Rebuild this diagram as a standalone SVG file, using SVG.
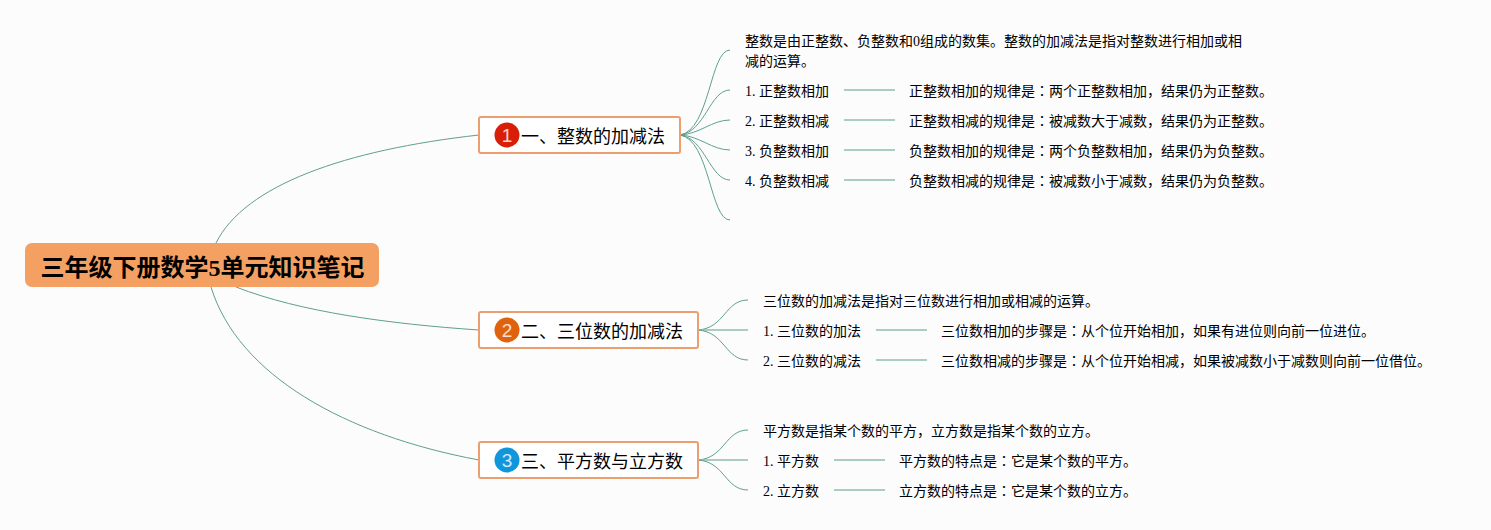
<svg xmlns="http://www.w3.org/2000/svg" width="1491" height="530" viewBox="0 0 1491 530">
<style>
text{font-family:"Liberation Serif","Noto Sans CJK SC",serif;fill:#000}
.t{font-size:14px}
.b{font-size:18px}
.r{font-size:24px;font-weight:700}
.k{font-family:"Liberation Serif","Noto Sans CJK TC",serif}
.n{font-family:"Liberation Sans",sans-serif;font-size:19px;fill:#fff;text-anchor:middle;opacity:.8}
.box{fill:#fff;stroke:#ec9f6e;stroke-width:2}
.c path{fill:none;stroke:#5f9f8e;stroke-width:1}
.c .s{stroke:#8fbcae;stroke-width:1.4}
</style>
<rect width="1491" height="530" fill="#fcfcfc"/>
<g id="connectors" class="c">
<path d="M216 243C245 185 345 150 479 135"/>
<path d="M236 287C300 312 390 324 479 330"/>
<path d="M211 287C238 375 345 435 479 460"/>
<path d="M680 135C710 130 710 50 730 50"/>
<path d="M680 135C705 132 710 90 730 90"/>
<path d="M680 135C700 134 712 120 730 120"/>
<path d="M680 135C700 136 712 150 730 150"/>
<path d="M680 135C705 138 710 180 730 180"/>
<path d="M680 135C710 140 710 220 730 220"/>
<path d="M698 330C725 328 725 300 748 300"/>
<path class="s" d="M698 330H748"/>
<path d="M698 330C725 332 725 360 748 360"/>
<path d="M698 460C725 458 725 430 748 430"/>
<path class="s" d="M698 460H748"/>
<path d="M698 460C725 462 725 490 748 490"/>
<path class="s" d="M844 90H895"/>
<path class="s" d="M844 120H895"/>
<path class="s" d="M844 150H895"/>
<path class="s" d="M844 180H895"/>
<path class="s" d="M876 330H927"/>
<path class="s" d="M876 360H927"/>
<path class="s" d="M834 460H885"/>
<path class="s" d="M834 490H885"/>
</g>
<g id="root"><rect x="25" y="243" width="354" height="44" rx="7" fill="#f4a063"/><text class="r" x="40.500" y="276">三年级下册数学5单元知识笔记</text></g>
<g id="branch1"><rect class="box" x="479" y="117" width="201" height="36" rx="2"/><circle cx="507" cy="135" r="12.5" fill="#d81e06"/><text class="n" x="507" y="141.500">1</text><text class="b" x="521" y="142.500">一、整数的加减法</text></g>
<g id="branch2"><rect class="box" x="479" y="312" width="219" height="36" rx="2"/><circle cx="507" cy="330" r="12.5" fill="#e0620d"/><text class="n" x="507" y="336.500">2</text><text class="b" x="521" y="337.500">二、三位数的加减法</text></g>
<g id="branch3"><rect class="box" x="479" y="442" width="219" height="36" rx="2"/><circle cx="507" cy="460" r="12.5" fill="#1296db"/><text class="n" x="507" y="466.500">3</text><text class="b" x="521" y="467.500">三、平方数与立方数</text></g>
<g id="intro1"><text class="t" x="745" y="46">整数是由正整数、负整数和0组成的数集。整数的加减法是指对整数进行相加或相</text><text class="t" x="745" y="66">减的运算。</text></g>
<g id="n11"><text class="t" x="745" y="96">1. 正整数相加</text></g>
<g id="n12"><text class="t" x="745" y="126">2. 正整数相减</text></g>
<g id="n13"><text class="t" x="745" y="156">3. 负整数相加</text></g>
<g id="n14"><text class="t" x="745" y="186">4. 负整数相减</text></g>
<g id="d11"><text class="t" x="909" y="96">正整数相加的规律是<tspan class="k">：</tspan>两个正整数相加，结果仍为正整数。</text></g>
<g id="d12"><text class="t" x="909" y="126">正整数相减的规律是<tspan class="k">：</tspan>被减数大于减数，结果仍为正整数。</text></g>
<g id="d13"><text class="t" x="909" y="156">负整数相加的规律是<tspan class="k">：</tspan>两个负整数相加，结果仍为负整数。</text></g>
<g id="d14"><text class="t" x="909" y="186">负整数相减的规律是<tspan class="k">：</tspan>被减数小于减数，结果仍为负整数。</text></g>
<g id="intro2"><text class="t" x="763" y="306">三位数的加减法是指对三位数进行相加或相减的运算。</text></g>
<g id="n21"><text class="t" x="763" y="336">1. 三位数的加法</text></g>
<g id="n22"><text class="t" x="763" y="366">2. 三位数的减法</text></g>
<g id="d21"><text class="t" x="941" y="336">三位数相加的步骤是<tspan class="k">：</tspan>从个位开始相加，如果有进位则向前一位进位。</text></g>
<g id="d22"><text class="t" x="941" y="366">三位数相减的步骤是<tspan class="k">：</tspan>从个位开始相减，如果被减数小于减数则向前一位借位。</text></g>
<g id="intro3"><text class="t" x="763" y="436">平方数是指某个数的平方，立方数是指某个数的立方。</text></g>
<g id="n31"><text class="t" x="763" y="466">1. 平方数</text></g>
<g id="n32"><text class="t" x="763" y="496">2. 立方数</text></g>
<g id="d31"><text class="t" x="899" y="466">平方数的特点是<tspan class="k">：</tspan>它是某个数的平方。</text></g>
<g id="d32"><text class="t" x="899" y="496">立方数的特点是<tspan class="k">：</tspan>它是某个数的立方。</text></g>
</svg>
